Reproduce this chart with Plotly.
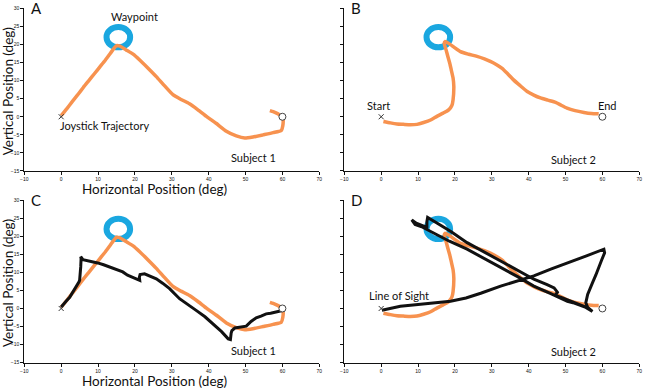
import plotly.graph_objects as go

# ---------------- data ----------------
# Subject 1 joystick trajectory (orange), panels A & C
s1_joy_x = [0, 1.5, 3, 4.5, 6, 7.5, 9, 10.5, 12, 13.3, 14.3, 15, 15.8, 17.6, 19.5, 21.3, 23.5, 25.8, 28, 30.3, 32.5, 34.8, 37, 39.4, 42, 44.8, 47.5, 49.8, 52, 54.8, 57.5, 59.7, 60.1, 60.2, 60, 59.3, 58.4, 57.5, 56.6]
s1_joy_y = [0.3, 2.2, 4.2, 6.1, 8.1, 10, 11.9, 13.8, 15.7, 17.5, 18.9, 19.7, 19.6, 18.5, 17.3, 15.7, 13.5, 11.1, 8.6, 6.1, 4.8, 3.6, 2.0, 0.1, -1.8, -4.0, -5.3, -5.9, -5.6, -5.0, -4.4, -3.8, -2.5, -0.8, 0.1, 0.5, 1.0, 1.4, 1.7]
# Subject 1 line of sight (black), panel C
s1_los_x = [0, 0.8, 1.5, 2.3, 3.2, 4.1, 4.8, 5.0, 5.2, 5.3, 5.4, 5.3, 5.9, 7.5, 9.9, 11.5, 13.1, 15.0, 16.7, 18.0, 19.4, 21.3, 21.2, 21.4, 22.6, 24.0, 25.8, 27.5, 29.4, 32.1, 34.5, 36.7, 39.0, 41.2, 43.5, 45.3, 45.9, 46.1, 46.3, 47.1, 48.5, 50.2, 51.5, 52.9, 54.2, 55.6, 56.8, 57.9, 59.3, 60.6]
s1_los_y = [0.4, 1.5, 2.2, 3.1, 4.6, 5.9, 7.3, 7.8, 9.5, 11.5, 13.8, 14.3, 13.5, 13.2, 12.6, 12.1, 11.5, 10.8, 10.1, 9.2, 8.7, 7.8, 8.6, 9.4, 9.6, 9.0, 8.2, 7.0, 5.5, 2.7, 1.1, -0.6, -2.3, -4.3, -6.4, -8.4, -8.6, -6.8, -6.1, -5.4, -5.2, -4.9, -3.6, -2.6, -2.1, -1.5, -1.3, -1.0, -0.75, -0.4]
# Subject 2 joystick trajectory (orange), panels B & D
s2_joy_x = [0.6, 2.5, 4.3, 6, 7.9, 9.7, 11.5, 13.4, 15.1, 16.8, 18.3, 19.2, 19.5, 19.7, 19.5, 19.0, 18.6, 18.1, 17.6, 17.1, 17.3, 18.3, 19.8, 21.5, 23.7, 26, 28, 29.6, 31.3, 32.8, 34.3, 35.9, 37.7, 39.6, 41.4, 43.2, 45.2, 47.3, 48.8, 50.4, 52.6, 55, 57, 59]
s2_joy_y = [-1.3, -1.7, -2.0, -2.1, -2.2, -2.1, -1.6, -0.9, 0.1, 1.0, 1.9, 3.2, 4.7, 8.4, 10.7, 13.0, 14.8, 16.6, 18.5, 20.3, 20.8, 20.3, 19.2, 18.0, 17.3, 16.7, 16.0, 15.3, 14.4, 13.4, 11.9, 10.2, 8.6, 7.0, 6.0, 5.2, 4.6, 4.0, 3.2, 2.4, 1.7, 1.2, 0.9, 0.8]
# Subject 2 line of sight (black), panel D
s2_los_x = [0.2, 5.2, 10, 14, 18.8, 23, 27, 32.4, 37, 41.4, 46, 50.5, 55.5, 60.4, 60.6, 59.8, 59.1, 58.2, 57.3, 56.6, 56.0, 55.5, 56.0, 57.3, 55.5, 52, 50.5, 46, 41.4, 37, 32.4, 28, 23.3, 18.5, 14.2, 11, 9.2, 8.3, 9.5, 11.2, 12.4, 12.4, 12.6, 15, 19, 23.3, 28, 32.4, 37, 41.4, 45, 46.9, 47.8, 47.2, 49, 52, 55.0, 56.5]
s2_los_y = [-0.5, 0.6, 1.1, 1.6, 2.0, 2.9, 4.2, 6.2, 7.6, 9.0, 10.9, 12.7, 14.5, 16.4, 15.4, 13.4, 11.3, 9.2, 7.1, 5.5, 3.9, 1.6, 0.3, -0.8, 0.3, 1.6, 2.0, 4.1, 6.2, 8.8, 11.3, 13.8, 16.4, 18.6, 21.0, 22.6, 23.2, 24.5, 23.6, 22.9, 22.4, 24.0, 25.2, 23.7, 21.2, 18.2, 15.6, 13.1, 10.6, 8.1, 6.6, 5.7, 4.5, 3.6, 3.0, 1.8, 0.6, -0.3]

waypoint = (15.5, 22.0)
waypoint_rx, waypoint_ry = 3.2, 2.8
start_pt = (0, 0)
end_pt = (60, 0)

x_ticks = [-10, 0, 10, 20, 30, 40, 50, 60, 70]
y_ticks = [-15, -10, -5, 0, 5, 10, 15, 20, 25, 30]
panel_letters = ["A", "B", "C", "D"]
x_title = "Horizontal Position (deg)"
y_title = "Vertical Position (deg)"

ORANGE = "#F7924F"
BLUE = "#1AA7E0"
BLACK = "#111111"
FONT = "Lato"

fig = go.Figure()

panels = [
    dict(ax="", joy=(s1_joy_x, s1_joy_y), los=None),
    dict(ax="2", joy=(s2_joy_x, s2_joy_y), los=None),
    dict(ax="3", joy=(s1_joy_x, s1_joy_y), los=(s1_los_x, s1_los_y)),
    dict(ax="4", joy=(s2_joy_x, s2_joy_y), los=(s2_los_x, s2_los_y)),
]

for i, p in enumerate(panels):
    xa, ya = "x" + p["ax"], "y" + p["ax"]
    fig.add_trace(go.Scatter(x=p["joy"][0], y=p["joy"][1], mode="lines",
                             line=dict(color=ORANGE, width=3.5, shape="spline", smoothing=0.5),
                             xaxis=xa, yaxis=ya, showlegend=False, hoverinfo="skip"))
    if p["los"] is not None:
        fig.add_trace(go.Scatter(x=p["los"][0], y=p["los"][1], mode="lines",
                                 line=dict(color=BLACK, width=3),
                                 xaxis=xa, yaxis=ya, showlegend=False, hoverinfo="skip"))
    fig.add_trace(go.Scatter(x=[start_pt[0]], y=[start_pt[1]], mode="markers",
                             marker=dict(symbol="x-thin", size=5, line=dict(color="#333", width=1)),
                             xaxis=xa, yaxis=ya, showlegend=False, hoverinfo="skip"))
    fig.add_trace(go.Scatter(x=[end_pt[0]], y=[end_pt[1]], mode="markers",
                             marker=dict(symbol="circle", size=7, color="white", line=dict(color="#444", width=1)),
                             xaxis=xa, yaxis=ya, showlegend=False, hoverinfo="skip"))
    fig.add_shape(type="circle", xref=xa, yref=ya,
                  x0=waypoint[0] - waypoint_rx, x1=waypoint[0] + waypoint_rx,
                  y0=waypoint[1] - waypoint_ry, y1=waypoint[1] + waypoint_ry,
                  line=dict(color=BLUE, width=6), layer="below")
    fig.add_annotation(text=panel_letters[i], xref=xa + " domain", yref=ya + " domain",
                       x=0.015, y=1.0, xanchor="left", yanchor="middle", showarrow=False,
                       font=dict(family=FONT, size=15, color="#111"))

def ann(text, ax, x, y, xanchor="center", size=11):
    fig.add_annotation(text=text, xref="x" + ax, yref="y" + ax, x=x, y=y,
                       xanchor=xanchor, yanchor="middle", showarrow=False,
                       font=dict(family=FONT, size=size, color="#111"))

ann("Waypoint", "", 20, 27.7)
ann("Joystick Trajectory", "", -0.8, -2.3, "left")
ann("Subject 1", "", 52.2, -11.4)
ann("Start", "2", -0.6, 3.1)
ann("End", "2", 61.5, 3.1)
ann("Subject 2", "2", 52.1, -11.7)
ann("Subject 1", "3", 52.2, -11.5)
ann("Line of Sight", "4", -3.9, 3.7, "left")
ann("Subject 2", "4", 52.1, -11.9)

# axis titles (left-column panels only)
for ax, ty in [("", -0.113), ("3", -0.113)]:
    fig.add_annotation(text=x_title, xref="x" + ax + " domain", yref="y" + ax + " domain",
                       x=0.44, y=ty, xanchor="center", yanchor="middle", showarrow=False,
                       borderpad=0, font=dict(family=FONT, size=13.5, color="#111"))
    fig.add_annotation(text=y_title, xref="x" + ax + " domain", yref="y" + ax + " domain",
                       x=-0.055, y=0.49, xanchor="center", yanchor="middle", showarrow=False,
                       borderpad=0, textangle=-90, font=dict(family=FONT, size=13.5, color="#111"))

xdom = [[0.0374, 0.4912], [0.5297, 0.9835]]
ydom = [[0.5593, 0.9786], [0.0652, 0.4845]]

layout = dict(width=650, height=388, margin=dict(l=0, r=0, t=0, b=0),
              paper_bgcolor="white", plot_bgcolor="white", showlegend=False,
              font=dict(family=FONT, color="#111"))
for i, p in enumerate(panels):
    col, row = i % 2, i // 2
    key = p["ax"]
    axis_common = dict(ticks="outside", ticklen=3, tickwidth=1, tickcolor="#111",
                       showline=True, linecolor="#111", linewidth=1, showgrid=False,
                       zeroline=False, automargin=False,
                       tickfont=dict(size=5, family="Liberation Sans", color="#111"))
    layout["xaxis" + key] = dict(domain=xdom[col], range=[-10, 70], tickvals=x_ticks,
                                 anchor="y" + key, **axis_common)
    layout["yaxis" + key] = dict(domain=ydom[row], range=[-15, 30], tickvals=y_ticks,
                                 showticklabels=(col == 0), anchor="x" + key, **axis_common)

fig.update_layout(**layout)
fig.write_html("out.html", config={"displayModeBar": False},
               post_script="document.body.style.margin='0px';document.body.style.overflow='hidden';")
